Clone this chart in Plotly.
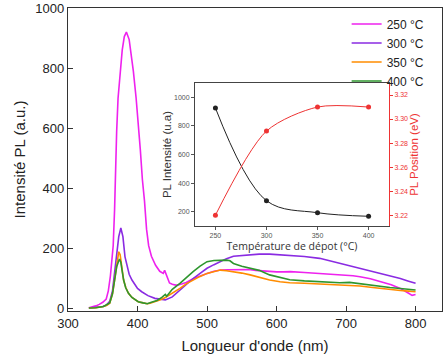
import plotly.graph_objects as go

# ---- main spectra ----
wl_250 = [330, 335, 340, 345, 350, 355, 358, 361, 363, 365, 367, 368, 370, 372, 375, 378, 381, 384, 388, 391, 394, 398, 401, 404, 407, 410, 413, 416, 420, 426, 432, 437, 439, 441, 446, 450, 455, 460, 470, 480, 490, 500, 510, 520, 530, 540, 550, 560, 570, 580, 590, 600, 610, 620, 640, 660, 680, 700, 710, 720, 735, 750, 765, 778, 785, 790, 795, 800]
pl_250 = [4, 6, 10, 15, 22, 33, 60, 110, 160, 210, 330, 430, 590, 700, 790, 860, 905, 920, 895, 850, 790, 700, 626, 530, 430, 360, 265, 210, 175, 145, 125, 118, 128, 115, 86, 82, 79, 80, 88, 100, 110, 118, 125, 129, 130, 130, 131, 131, 128, 126, 124, 123, 123, 124, 121, 118, 115, 113, 110, 107, 100, 90, 80, 68, 60, 52, 45, 48]

wl_300 = [330, 340, 350, 355, 360, 364, 367, 370, 373, 376, 379, 382, 385, 388, 392, 396, 400, 406, 415, 425, 432, 440, 450, 461, 470, 480, 490, 500, 510, 519, 528, 538, 550, 562, 575, 590, 605, 619, 640, 662, 680, 691, 705, 720, 735, 749, 763, 778, 790, 800]
pl_300 = [3, 5, 8, 12, 25, 60, 120, 173, 240, 269, 240, 173, 140, 115, 96, 80, 68, 57, 44, 35, 32, 30, 40, 63, 82, 101, 118, 135, 147, 157, 167, 175, 178, 181, 182, 182, 180, 179, 174, 168, 158, 151, 143, 135, 126, 118, 110, 101, 92, 85]

wl_350 = [330, 340, 351, 356, 360, 364, 367, 370, 373, 375, 377, 380, 383, 387, 392, 401, 408, 414, 418, 425, 433, 440, 450, 461, 470, 480, 490, 500, 510, 519, 528, 538, 550, 562, 575, 590, 605, 619, 640, 662, 691, 720, 735, 749, 763, 778, 790, 800]
pl_350 = [3, 4, 8, 12, 19, 50, 96, 150, 190, 180, 145, 96, 72, 52, 38, 24, 20, 17, 19, 24, 30, 38, 52, 68, 83, 96, 108, 118, 125, 129, 127, 124, 119, 113, 105, 96, 90, 87, 85, 83, 80, 76, 72, 68, 65, 61, 59, 57]

wl_400 = [330, 340, 351, 355, 360, 364, 367, 370, 374, 376, 378, 380, 383, 387, 392, 401, 408, 414, 420, 428, 435, 438, 440, 442, 450, 461, 470, 480, 490, 500, 510, 519, 528, 533, 538, 550, 562, 575, 590, 605, 619, 640, 662, 691, 705, 720, 735, 749, 763, 778, 790, 800]
pl_400 = [3, 4, 8, 14, 20, 50, 96, 140, 166, 155, 125, 96, 70, 52, 38, 24, 20, 17, 22, 28, 38, 45, 48, 42, 65, 85, 104, 124, 142, 157, 161, 162, 162, 160, 151, 142, 135, 128, 113, 106, 97, 93, 90, 87, 88, 83, 79, 74, 71, 68, 65, 63]

series_names = ["250 °C", "300 °C", "350 °C", "400 °C"]
series_colors = ["#EE22EE", "#8A2BE2", "#FF8C00", "#2E962E"]

# ---- inset data ----
temps = [250, 300, 350, 400]
inset_intensity = [925, 277, 193, 168]
inset_position = [3.220, 3.290, 3.310, 3.310]

fig = go.Figure()
for wl, pl, name, col in zip([wl_250, wl_300, wl_350, wl_400],
                             [pl_250, pl_300, pl_350, pl_400],
                             series_names, series_colors):
    fig.add_trace(go.Scatter(x=wl, y=pl, mode="lines", name=name,
                             line=dict(color=col, width=1.6)))

fig.add_trace(go.Scatter(x=temps, y=inset_intensity, mode="lines+markers",
                         xaxis="x2", yaxis="y2", showlegend=False,
                         line=dict(color="#222222", width=1, shape="spline", smoothing=1),
                         marker=dict(color="#222222", size=5)))
fig.add_trace(go.Scatter(x=temps, y=inset_position, mode="lines+markers",
                         xaxis="x2", yaxis="y3", showlegend=False,
                         line=dict(color="#EE3333", width=1, shape="spline", smoothing=0.8),
                         marker=dict(color="#EE3333", size=5)))

main_font = "Liberation Sans, Arial, sans-serif"
fig.update_layout(
    width=448, height=354,
    margin=dict(l=68, r=6, t=8, b=43),
    paper_bgcolor="white", plot_bgcolor="white",
    font=dict(family=main_font, color="#222222"),
    legend=dict(x=0.745, y=0.995, xanchor="left", yanchor="top",
                bgcolor="rgba(0,0,0,0)", font=dict(size=12, color="#222222"),
                tracegroupgap=0, itemwidth=30),
    xaxis=dict(range=[300, 838], tickvals=[300, 400, 500, 600, 700, 800],
               ticks="inside", ticklen=5, tickcolor="#333", showgrid=False, zeroline=False,
               showline=True, linecolor="#333", linewidth=1.3, mirror=True,
               tickfont=dict(size=13), automargin=False,
               title=dict(text="Longueur d'onde (nm)", font=dict(size=15), standoff=20)),
    yaxis=dict(range=[-7, 1000], tickvals=[0, 200, 400, 600, 800, 1000],
               ticks="inside", ticklen=5, tickcolor="#333", showgrid=False, zeroline=False,
               showline=True, linecolor="#333", linewidth=1.3, mirror=True,
               tickfont=dict(size=13), automargin=False,
               title=dict(text="Intensité PL (a.u.)", font=dict(size=15), standoff=6)),
    xaxis2=dict(domain=[0.3396, 0.8583], anchor="y2", range=[230, 420],
                tickvals=[250, 300, 350, 400], ticks="outside", ticklen=3,
                tickcolor="#555", showgrid=False, zeroline=False,
                showline=True, linecolor="#444", linewidth=1, mirror=True,
                tickfont=dict(size=7, color="#555"), automargin=False,
                title=dict(text="Température de dépot (°C)",
                           font=dict(size=10.5, family="Open Sans, sans-serif", color="#333"),
                           standoff=3)),
    yaxis2=dict(domain=[0.2805, 0.7525], anchor="x2", range=[100, 1100],
                tickvals=[200, 400, 600, 800, 1000], ticks="outside", ticklen=3,
                tickcolor="#555", showgrid=False, zeroline=False,
                showline=True, linecolor="#444", linewidth=1,
                tickfont=dict(size=7, color="#555"), automargin=True,
                title=dict(text="PL Intensité (u.a)", font=dict(size=11.5, color="#333"),
                           standoff=0)),
    yaxis3=dict(domain=[0.2805, 0.7525], anchor="x2", overlaying="y2", side="right",
                range=[3.211, 3.33], tickvals=[3.22, 3.24, 3.26, 3.28, 3.30, 3.32],
                tickformat=".2f",
                ticks="outside", ticklen=3, tickcolor="#EE3333",
                showgrid=False, zeroline=False,
                showline=True, linecolor="#EE3333", linewidth=1,
                tickfont=dict(size=7, color="#EE3333"), automargin=True,
                title=dict(text="PL Position (eV)", font=dict(size=11.5, color="#EE3333"),
                           standoff=1)),
)

fig.write_html("out.html")
